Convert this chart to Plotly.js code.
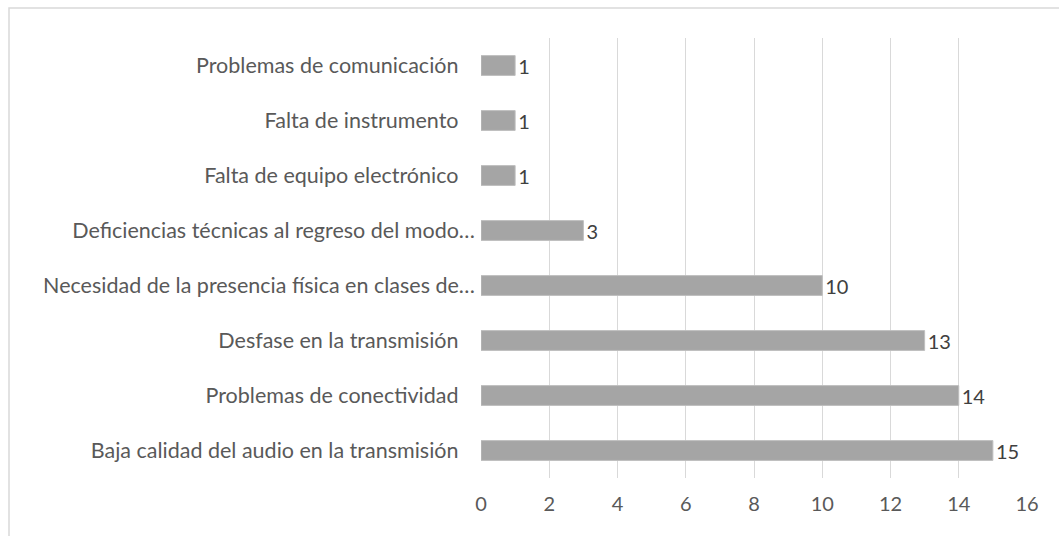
<!DOCTYPE html>
<html>
<head>
<meta charset="utf-8">
<script src="https://cdn.plot.ly/plotly-3.0.1.min.js"></script>
<style>
html,body{margin:0;padding:0;background:#fff;}
#chart{width:1059px;height:536px;}
</style>
</head>
<body>
<div id="chart"></div>
<script>
const categories = [
  "Baja calidad del audio en la transmisión",
  "Problemas de conectividad",
  "Desfase en la transmisión",
  "Necesidad de la presencia física en clases de…",
  "Deficiencias técnicas al regreso del modo…",
  "Falta de equipo electrónico",
  "Falta de instrumento",
  "Problemas de comunicación"
];
const values = [15, 14, 13, 10, 3, 1, 1, 1];
const xTicks = [0, 2, 4, 6, 8, 10, 12, 14, 16];

const fontFam = "Lato, Open Sans, sans-serif";
const tickLabels = categories.map(c => c.endsWith("…") ? c : c + "\u00a0\u00a0\u00a0");
const trace = {
  type: "bar",
  orientation: "h",
  y: categories,
  x: values,
  text: values.map(String),
  textposition: "outside",
  constraintext: "none",
  cliponaxis: false,
  textfont: {family: fontFam, size: 20, color: "#404040"},
  marker: {color: "#a5a5a5", line: {color: "#bfbfbf", width: 1}},
  width: 0.36,
  hoverinfo: "none"
};
const layout = {
  width: 1059, height: 536,
  margin: {l: 481, r: 32, t: 38, b: 58, pad: 0},
  paper_bgcolor: "#fff", plot_bgcolor: "#fff",
  showlegend: false,
  font: {family: fontFam, color: "#595959", size: 21},
  xaxis: {
    range: [0, 16], tickvals: xTicks, ticktext: xTicks.map(String),
    showgrid: true, gridcolor: "#d9d9d9", gridwidth: 1,
    zeroline: false, showline: false, ticks: "",
    ticklabelstandoff: 12,
    tickfont: {family: fontFam, size: 20, color: "#595959"}
  },
  yaxis: {
    type: "category", categoryorder: "array", categoryarray: categories,
    tickvals: categories, ticktext: tickLabels,
    showgrid: false, zeroline: false, showline: false, ticks: "",
    ticklabelstandoff: 5,
    tickfont: {family: fontFam, size: 21.5, color: "#595959"}
  },
  shapes: [{
    type: "rect", xref: "paper", yref: "paper",
    x0: (9 - 481) / 546, x1: 1.2, y0: -0.3, y1: (478 - 8) / 440,
    line: {color: "#d9d9d9", width: 1.5}, fillcolor: "rgba(0,0,0,0)", layer: "below"
  }],
  bargap: 0.64
};
Plotly.newPlot("chart", [trace], layout, {displayModeBar: false, staticPlot: true});
</script>
</body>
</html>
